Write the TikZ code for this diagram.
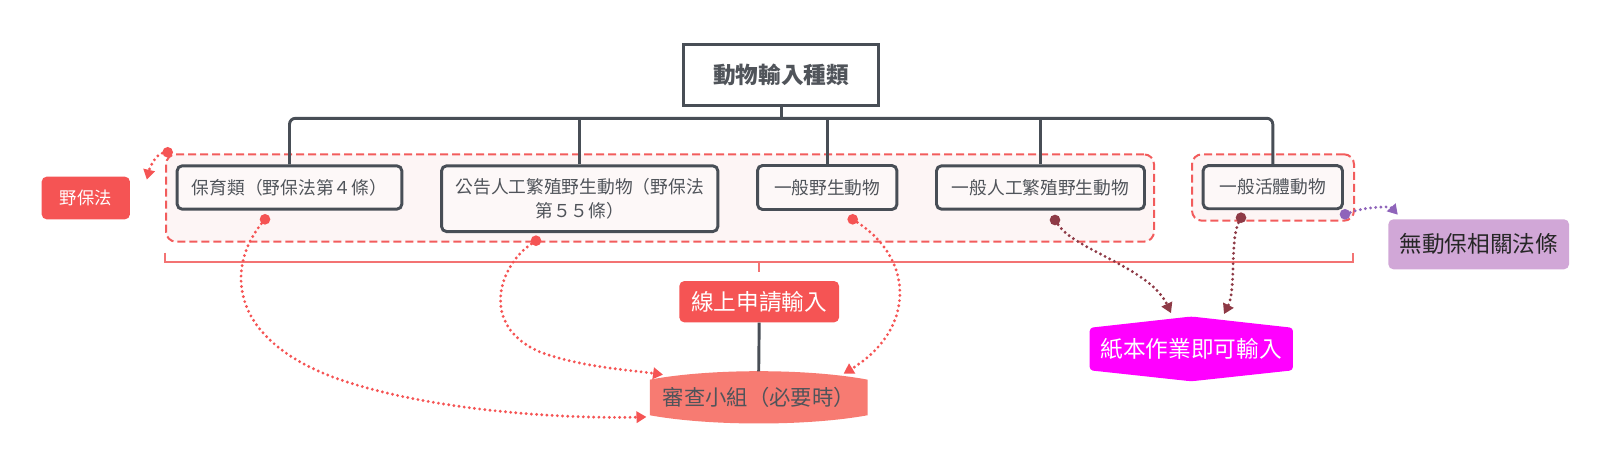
\documentclass[tikz,border=0pt]{standalone}
\usepackage{fontspec}
\setmainfont{Noto Sans CJK TC}
\usetikzlibrary{arrows.meta,calc,backgrounds}
\definecolor{dk}{HTML}{484E56}
\definecolor{txt}{HTML}{50545A}
\definecolor{rd}{HTML}{F55454}
\definecolor{rdl}{HTML}{F37373}
\definecolor{grpc}{HTML}{F25C5C}
\definecolor{pinkbg}{HTML}{FDF5F5}
\definecolor{boxbg}{HTML}{FDF8F8}
\definecolor{drd}{HTML}{8E3A46}
\definecolor{pur}{HTML}{8F64BA}
\definecolor{lilac}{HTML}{D1A7D7}
\definecolor{mag}{HTML}{FF00FF}
\definecolor{salmon}{HTML}{F77B72}
\begin{document}
\begin{tikzpicture}[x=0.75pt,y=-0.75pt,
  cat/.style={draw=dk, line width=2.2pt, fill=boxbg, rounded corners=3.75pt, text=txt,
    font=\fontsize{13.3}{17.5}\selectfont, inner sep=0pt, align=center},
  rootbox/.style={draw=dk, line width=2.2pt, fill=white, text=txt,
    font=\fontsize{17}{20}\selectfont\bfseries, inner sep=0pt, minimum width=146pt, minimum height=45.75pt},
  grp/.style={draw=grpc, line width=1.5pt, dash pattern=on 6pt off 3pt, fill=pinkbg, rounded corners=7.5pt, inner sep=0pt},
  tag/.style={fill=rd, rounded corners=3.75pt, text=white, inner sep=0pt},
  tree/.style={draw=dk, line width=2.2pt},
  brk/.style={draw=rdl, line width=1.5pt},
  dotn/.style={circle, fill=#1, inner sep=0pt, minimum size=8pt},
  curve/.style={draw=#1, line width=2.4pt, dash pattern=on 0pt off 3.9pt, line cap=round,
    -{Triangle[length=7.5pt,width=8.5pt,fill=#1]}},
]
\useasboundingbox (0,0) rectangle (1611,464);

% groups
\node[grp, minimum width=741pt, minimum height=65.5pt] (g1) at (660,198) {};
\node[grp, minimum width=121.5pt, minimum height=49.8pt] (g2) at (1273,187.5) {};

% bracket
\draw[brk] (165,252.7) -- (165,262) -- (1353.3,262) -- (1353.3,252.7);
\coordinate (brkmid) at (758.7,262);
\coordinate (brktip) at (758.7,271.7);
\draw[brk] (brkmid) -- (brktip);

% main nodes
\node[rootbox] (top) at (781.2,74.7) {動物輸入種類};
\node[cat, minimum width=168.5pt, minimum height=32.5pt] (b1) at (289.5,187.5) {保育類（野保法第４條）};
\node[cat, minimum width=207.2pt, minimum height=49.3pt] (b2) at (579.7,198.7) {公告人工繁殖野生動物（野保法\\第５５條）};
\node[cat, minimum width=104.5pt, minimum height=33pt] (b3) at (827.2,187.5) {一般野生動物};
\node[cat, minimum width=156pt, minimum height=32.5pt] (b4) at (1040.5,187.5) {一般人工繁殖野生動物};
\node[cat, minimum width=104.5pt, minimum height=32.3pt] (b5) at (1272.8,187.2) {一般活體動物};

% tree
\coordinate (hub) at (781.2,118.3);
\draw[tree] (top.south) -- (hub);
\draw[tree, rounded corners=4.5pt] (b1.north) |- (hub) -| (b5.north);
\draw[tree] (b2.north) -- (b2.north |- hub);
\draw[tree] (b3.north) -- (b3.north |- hub);
\draw[tree] (b4.north) -- (b4.north |- hub);

% side nodes
\node[tag, minimum width=66.2pt, minimum height=32pt, font=\fontsize{13}{15}\selectfont] (law) at (85.8,198) {野保法};
\node[tag, minimum width=119.8pt, minimum height=31pt, font=\fontsize{17}{20}\selectfont] (online) at (759.2,301.7) {線上申請輸入};
\node[fill=lilac, rounded corners=3.75pt, inner sep=0pt, minimum width=135.5pt, minimum height=37.5pt,
  text=black!85, font=\fontsize{17}{20}\selectfont] (nolaw) at (1478.7,244.3) {無動保相關法條};
\node[inner sep=0pt, minimum width=152pt, minimum height=48.2pt, text=white,
  font=\fontsize{17}{20}\selectfont] (paper) at (1191.3,348.9) {紙本作業即可輸入};
\node[inner sep=0pt, minimum width=163pt, minimum height=38.5pt, text=txt,
  font=\fontsize{16}{19}\selectfont] (review) at (758.7,397.3) {審查小組（必要時）};

\begin{scope}[on background layer]
\fill[mag, rounded corners=2.5pt] ($(paper.north west)+(0,11.3)$) -- (paper.north) -- ($(paper.north east)+(0,11.3)$)
  -- ($(paper.south east)+(0,-11)$) -- (paper.south) -- ($(paper.south west)+(0,-11)$) -- cycle;
\fill[salmon] ($(review.north west)+(0,8.3)$) .. controls ($(review.north west)+(60,-3)$) and ($(review.north east)+(-60,-3)$) .. ($(review.north east)+(0,8.3)$)
  -- ($(review.south east)+(0,-8)$) .. controls ($(review.south east)+(-60,3)$) and ($(review.south west)+(60,3)$) .. ($(review.south west)+(0,-8)$) -- cycle;
\end{scope}

\draw[tree] (online.south) -- (review.north);

% dots
\node[dotn=rd] (d0) at (167.7,152.3) {};
\node[dotn=rd] (d1) at (265,219.3) {};
\node[dotn=rd] (d2) at (536,240.7) {};
\node[dotn=rd] (d3) at (852.7,219.3) {};
\node[dotn=drd] (d4) at (1055,220) {};
\node[dotn=drd] (d5) at (1241,217.7) {};
\node[dotn=pur] (d6) at (1345,214.3) {};

% connectors
\draw[curve=rd] (d0) .. controls (157,154) and (150,166) .. ($(law.north east)+(16.7,3.3)$);
\draw[curve=rd] (d1) .. controls (228,265) and (226,335) .. (330,376) .. controls (420,410) and (560,419) .. ($(review.south west)+(-3.3,-6.3)$);
\draw[curve=rd] (d2) .. controls (500,265) and (478,325) .. (540,352) .. controls (580,367) and (630,370) .. ($(review.north west)+(13.3,3.3)$);
\draw[curve=rd] (d3) .. controls (915,260) and (915,330) .. ($(review.north east)+(-24,2.3)$);
\draw[curve=drd] (d4) .. controls (1075,250) and (1150,268) .. ($(paper.north)+(-20.3,-3.4)$);
\draw[curve=drd] (d5) .. controls (1230,240) and (1236,290) .. ($(paper.north)+(32.7,-2.4)$);
\draw[curve=pur] (d6) .. controls (1365,207) and (1390,206) .. ($(nolaw.north west)+(9.7,-4.3)$);
\end{tikzpicture}
\end{document}
